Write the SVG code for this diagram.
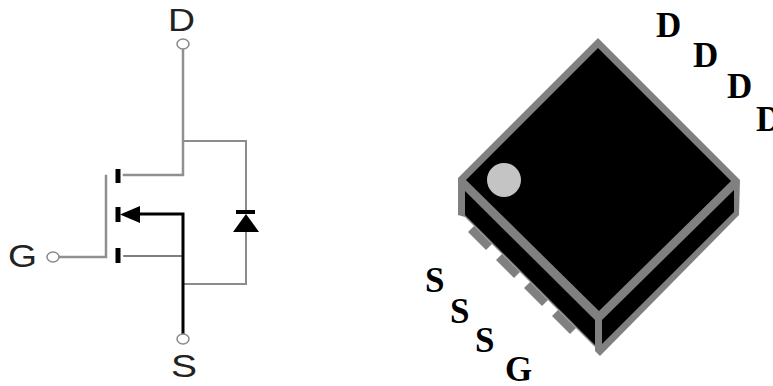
<svg xmlns="http://www.w3.org/2000/svg" width="773" height="386" viewBox="0 0 773 386">
<style>
.w{fill:none;stroke-linecap:square}
.g{stroke:#8c8c8c;stroke-width:2}
.g3{stroke:#909090;stroke-width:2.5}
.d{stroke:#555;stroke-width:1.6}
.k{stroke:#000;stroke-width:3}
.t{stroke:#000;stroke-width:5;fill:none}
.o{fill:#fff;stroke:#888;stroke-width:1.5}
.a{font-family:"Liberation Sans",Arial,sans-serif;font-size:31px;fill:#222}
.b{font-family:"Liberation Serif","Times New Roman",serif;font-size:35px;font-weight:bold;fill:#000}
.p{fill:#808080}
</style>
<rect width="773" height="386" fill="#fff"/>
<g id="connectors">
<path class="w g3" d="M183 50V175H124"/>
<path class="w g" d="M184 141H246V212M246 232V284H184"/>
<path class="w g3" d="M59 257H106V176"/>
<path class="w d" d="M124 256H183"/>
<path class="w k" d="M137 214H183V334"/>
</g>
<g id="mosfet">
<path class="t" d="M118 169V183M118 207V222M118 248V263"/>
<path d="M120 214.500L140 206V223Z" fill="#000"/>
</g>
<g id="diode">
<path d="M246 214L233 232H259Z" fill="#000"/>
<path d="M236 212H255" stroke="#000" stroke-width="4"/>
</g>
<g id="terminal-D"><ellipse class="o" cx="183" cy="44" rx="6" ry="5"/><text class="a" x="168" y="31" textLength="27" lengthAdjust="spacingAndGlyphs">D</text></g>
<g id="terminal-G"><ellipse class="o" cx="53" cy="257" rx="6" ry="5"/><text class="a" x="8" y="267" textLength="29" lengthAdjust="spacingAndGlyphs">G</text></g>
<g id="terminal-S"><ellipse class="o" cx="183" cy="339" rx="6" ry="5"/><text class="a" x="171" y="377" textLength="26" lengthAdjust="spacingAndGlyphs">S</text></g>
<g id="package">
<path class="p" d="M474 226L492 244L486 250L468 232Z"/>
<path class="p" d="M502 254L520 272L514 278L496 260Z"/>
<path class="p" d="M530 282L548 300L542 306L524 288Z"/>
<path class="p" d="M558 310L576 328L570 334L552 316Z"/>
<path class="p" d="M598 38L740 180L739 215L600 356L595 351V347L465 217L458 215V178Z"/>
<path d="M598 48L731 181L599 311L466 180Z" fill="#000"/>
<path d="M465 191L595 320V345L465 215Z" fill="#000"/>
<path d="M602 320L734 190V212L602 344Z" fill="#000"/>
<circle cx="504" cy="180" r="17" fill="#c4c4c4"/>
</g>
<g id="labels">
<text class="b" x="656" y="37">D</text>
<text class="b" x="693" y="67">D</text>
<text class="b" x="727" y="98">D</text>
<text class="b" x="756" y="131">D</text>
<text class="b" x="425" y="292">S</text>
<text class="b" x="450" y="323">S</text>
<text class="b" x="475" y="352">S</text>
<text class="b" x="505" y="381">G</text>
</g>
</svg>
